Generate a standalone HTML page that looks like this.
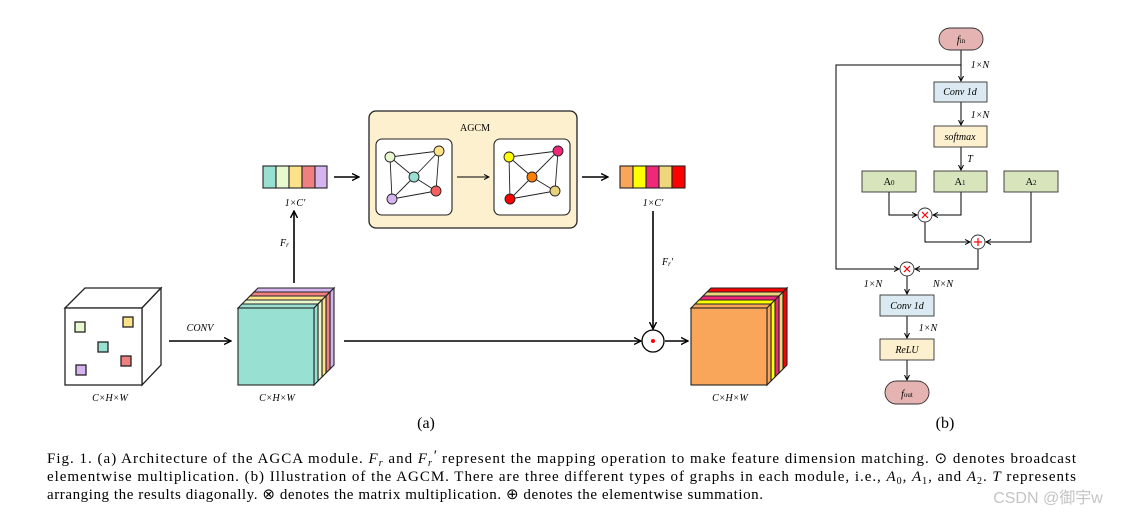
<!DOCTYPE html>
<html><head><meta charset="utf-8"><style>
html,body{margin:0;padding:0;background:#fff;}
svg{display:block;}
text{font-family:"Liberation Serif",serif;fill:#000;}
</style></head><body>
<svg width="1121" height="516" viewBox="0 0 1121 516" xmlns="http://www.w3.org/2000/svg">
<defs>
<marker id="ah" markerWidth="8" markerHeight="8" refX="7" refY="4" orient="auto" markerUnits="userSpaceOnUse">
<path d="M0,0.5 L7,4 L0,7.5" fill="none" stroke="#000" stroke-width="1.4"/>
</marker>
<marker id="as" markerWidth="6" markerHeight="6" refX="5" refY="3" orient="auto" markerUnits="userSpaceOnUse">
<path d="M0,0.5 L5,3 L0,5.5" fill="none" stroke="#000" stroke-width="1"/>
</marker>
</defs>

<g stroke="#222" stroke-width="1.3">
<polygon points="65,308 85,288 161,288 142,308" fill="#fff"/>
<polygon points="142,308 161,288 161,365 142,385" fill="#fff"/>
<rect x="65" y="308" width="77" height="77" fill="#fff"/>
<rect x="75" y="322" width="10" height="10" fill="#e8f8cf"/>
<rect x="123" y="317" width="10" height="10" fill="#fde28a"/>
<rect x="98" y="342" width="10" height="10" fill="#97e0d2"/>
<rect x="121" y="356" width="10" height="10" fill="#f08080"/>
<rect x="76" y="365" width="10" height="10" fill="#d5b4f0"/>
</g>
<text x="200" y="331" font-size="10" font-style="italic" text-anchor="middle">CONV</text>
<line x1="169" y1="341" x2="231" y2="341" stroke="#000" stroke-width="1.6" marker-end="url(#ah)"/>

<g stroke="#222" stroke-width="1.1">
<g transform="translate(16,-16)"><polygon points="238,308 242,304 318,304 314,308" fill="#d5b4f0"/><polygon points="314,308 318,304 318,381 314,385" fill="#d5b4f0"/></g>
<g transform="translate(12,-12)"><polygon points="238,308 242,304 318,304 314,308" fill="#f08080"/><polygon points="314,308 318,304 318,381 314,385" fill="#f08080"/></g>
<g transform="translate(8,-8)"><polygon points="238,308 242,304 318,304 314,308" fill="#fde28a"/><polygon points="314,308 318,304 318,381 314,385" fill="#fde28a"/></g>
<g transform="translate(4,-4)"><polygon points="238,308 242,304 318,304 314,308" fill="#e8f8cf"/><polygon points="314,308 318,304 318,381 314,385" fill="#e8f8cf"/></g>
<polygon points="238,308 242,304 318,304 314,308" fill="#97e0d2"/><polygon points="314,308 318,304 318,381 314,385" fill="#97e0d2"/>
<rect x="238" y="308" width="76" height="77" fill="#97e0d2"/>
</g>
<line x1="294" y1="283" x2="294" y2="211" stroke="#000" stroke-width="1.6" marker-end="url(#ah)"/>
<text x="280" y="246" font-size="10" font-style="italic">F<tspan font-size="7" dy="1">r</tspan></text>

<g stroke="#222" stroke-width="1.1">
<rect x="263" y="166" width="13" height="22" fill="#97e0d2"/>
<rect x="276" y="166" width="13" height="22" fill="#e8f8cf"/>
<rect x="289" y="166" width="13" height="22" fill="#fde28a"/>
<rect x="302" y="166" width="13" height="22" fill="#f08080"/>
<rect x="315" y="166" width="12" height="22" fill="#d5b4f0"/>
</g>
<text x="295" y="206" font-size="10" font-style="italic" text-anchor="middle">1×C′</text>
<line x1="334" y1="177" x2="359" y2="177" stroke="#000" stroke-width="1.6" marker-end="url(#ah)"/>

<rect x="369" y="111" width="208" height="117" rx="7" fill="#fdf0cf" stroke="#222" stroke-width="1.3"/>
<text x="475" y="131" font-size="10" text-anchor="middle">AGCM</text>
<rect x="376" y="139" width="76" height="76" rx="6" fill="#fff" stroke="#222" stroke-width="1.1"/>
<rect x="494" y="139" width="76" height="76" rx="6" fill="#fff" stroke="#222" stroke-width="1.1"/>
<line x1="457" y1="177" x2="489" y2="177" stroke="#000" stroke-width="0.9" marker-end="url(#as)"/>
<g stroke="#222" stroke-width="0.9">
<line x1="390" y1="157" x2="439" y2="151"/><line x1="390" y1="157" x2="414" y2="177"/><line x1="390" y1="157" x2="392" y2="199"/>
<line x1="439" y1="151" x2="414" y2="177"/><line x1="439" y1="151" x2="436" y2="191"/><line x1="414" y1="177" x2="436" y2="191"/>
<line x1="414" y1="177" x2="392" y2="199"/><line x1="392" y1="199" x2="436" y2="191"/>
<circle cx="390" cy="157" r="5" fill="#e8f8cf"/><circle cx="439" cy="151" r="5" fill="#fde28a"/>
<circle cx="414" cy="177" r="5" fill="#97e0d2"/><circle cx="436" cy="191" r="5" fill="#f86060"/>
<circle cx="392" cy="199" r="5" fill="#d5b4f0"/>
<line x1="509" y1="157" x2="558" y2="151"/><line x1="509" y1="157" x2="532" y2="177"/><line x1="509" y1="157" x2="510" y2="199"/>
<line x1="558" y1="151" x2="532" y2="177"/><line x1="558" y1="151" x2="555" y2="191"/><line x1="532" y1="177" x2="555" y2="191"/>
<line x1="532" y1="177" x2="510" y2="199"/><line x1="510" y1="199" x2="555" y2="191"/>
<circle cx="509" cy="157" r="5" fill="#ffff00"/><circle cx="558" cy="151" r="5" fill="#f0287a"/>
<circle cx="532" cy="177" r="5" fill="#ff7f00"/><circle cx="555" cy="191" r="5" fill="#e8d27a"/>
<circle cx="510" cy="199" r="5" fill="#ff0000"/>
</g>
<line x1="582" y1="177" x2="608" y2="177" stroke="#000" stroke-width="1.6" marker-end="url(#ah)"/>

<g stroke="#222" stroke-width="1.1">
<rect x="620" y="166" width="13" height="22" fill="#f9a55a"/>
<rect x="633" y="166" width="13" height="22" fill="#ffff00"/>
<rect x="646" y="166" width="13" height="22" fill="#f0287a"/>
<rect x="659" y="166" width="13" height="22" fill="#eed67a"/>
<rect x="672" y="166" width="13" height="22" fill="#ff0000"/>
</g>
<text x="653" y="206" font-size="10" font-style="italic" text-anchor="middle">1×C′</text>
<line x1="653" y1="211" x2="653" y2="329" stroke="#000" stroke-width="1.6" marker-end="url(#ah)"/>
<text x="662" y="265" font-size="10" font-style="italic">F<tspan font-size="7" dy="1">r</tspan><tspan dy="-1">′</tspan></text>
<line x1="344" y1="341" x2="641" y2="341" stroke="#000" stroke-width="1.6" marker-end="url(#ah)"/>
<circle cx="653" cy="341" r="11" fill="#fff" stroke="#000" stroke-width="1.3"/>
<circle cx="653" cy="341" r="2" fill="#f00"/>
<line x1="665" y1="341" x2="688" y2="341" stroke="#000" stroke-width="1.6" marker-end="url(#ah)"/>

<g stroke="#222" stroke-width="1.1">
<g transform="translate(16,-16)"><polygon points="691,308 695,304 771,304 767,308" fill="#ff0000"/><polygon points="767,308 771,304 771,381 767,385" fill="#ff0000"/></g>
<g transform="translate(12,-12)"><polygon points="691,308 695,304 771,304 767,308" fill="#eed67a"/><polygon points="767,308 771,304 771,381 767,385" fill="#eed67a"/></g>
<g transform="translate(8,-8)"><polygon points="691,308 695,304 771,304 767,308" fill="#f0287a"/><polygon points="767,308 771,304 771,381 767,385" fill="#f0287a"/></g>
<g transform="translate(4,-4)"><polygon points="691,308 695,304 771,304 767,308" fill="#ffff00"/><polygon points="767,308 771,304 771,381 767,385" fill="#ffff00"/></g>
<polygon points="691,308 695,304 771,304 767,308" fill="#f9a55a"/><polygon points="767,308 771,304 771,381 767,385" fill="#f9a55a"/>
<rect x="691" y="308" width="76" height="77" fill="#f9a55a"/>
</g>

<g font-size="10" font-style="italic" text-anchor="middle">
<text x="110" y="401">C×H×W</text><text x="277" y="401">C×H×W</text><text x="730" y="401">C×H×W</text>
</g>
<text x="426" y="428" font-size="16" text-anchor="middle">(a)</text>
<text x="945" y="428" font-size="16" text-anchor="middle">(b)</text>

<g stroke="#000" stroke-width="1" fill="none">
<line x1="961" y1="50" x2="961" y2="81" marker-end="url(#as)"/>
<polyline points="961,65 836,65 836,269 899,269" marker-end="url(#as)"/>
<line x1="961" y1="102" x2="961" y2="125" marker-end="url(#as)"/>
<line x1="961" y1="147" x2="961" y2="170" marker-end="url(#as)"/>
<polyline points="889,192 889,215 917,215" marker-end="url(#as)"/>
<polyline points="961,192 961,215 933,215" marker-end="url(#as)"/>
<polyline points="925,222 925,242 970,242" marker-end="url(#as)"/>
<polyline points="1031,192 1031,242 986,242" marker-end="url(#as)"/>
<polyline points="978,249 978,269 915,269" marker-end="url(#as)"/>
<line x1="907" y1="276" x2="907" y2="294" marker-end="url(#as)"/>
<line x1="907" y1="316" x2="907" y2="338" marker-end="url(#as)"/>
<line x1="907" y1="360" x2="907" y2="380" marker-end="url(#as)"/>
</g>
<g stroke="#333" stroke-width="0.9">
<rect x="939" y="28" width="44" height="22" rx="11" fill="#e6b3b3"/>
<rect x="934" y="82" width="53" height="20" fill="#dbeaf2"/>
<rect x="934" y="126" width="53" height="21" fill="#fdf0cf"/>
<rect x="862" y="171" width="54" height="21" fill="#d8e4bc"/>
<rect x="934" y="171" width="53" height="21" fill="#d8e4bc"/>
<rect x="1004" y="171" width="54" height="21" fill="#d8e4bc"/>
<rect x="880" y="295" width="54" height="21" fill="#dbeaf2"/>
<rect x="880" y="339" width="54" height="21" fill="#fdf0cf"/>
<rect x="885" y="381" width="44" height="23" rx="11.5" fill="#e6b3b3"/>
<circle cx="925" cy="215" r="7" fill="#fff"/>
<circle cx="978" cy="242" r="7" fill="#fff"/>
<circle cx="907" cy="269" r="7" fill="#fff"/>
</g>
<g stroke="#f00" stroke-width="1.2">
<line x1="922" y1="212" x2="928" y2="218"/><line x1="928" y1="212" x2="922" y2="218"/>
<line x1="974" y1="242" x2="982" y2="242"/><line x1="978" y1="238" x2="978" y2="246"/>
<line x1="904" y1="266" x2="910" y2="272"/><line x1="910" y1="266" x2="904" y2="272"/>
</g>
<g font-size="10" font-style="italic" text-anchor="middle">
<text x="961" y="43">f<tspan font-size="7" font-style="normal">in</tspan></text>
<text x="960" y="95">Conv 1d</text>
<text x="960" y="140">softmax</text>
<text x="907" y="309">Conv 1d</text>
<text x="907" y="353">ReLU</text>
<text x="907" y="397">f<tspan font-size="7" font-style="normal">out</tspan></text>
<text x="980" y="68">1×N</text>
<text x="980" y="118">1×N</text>
<text x="970" y="162">T</text>
<text x="873" y="287">1×N</text>
<text x="943" y="287">N×N</text>
<text x="928" y="331">1×N</text>
</g>
<g font-size="10.5" text-anchor="middle">
<text x="889" y="185">A<tspan font-size="7">0</tspan></text>
<text x="960" y="185">A<tspan font-size="7">1</tspan></text>
<text x="1031" y="185">A<tspan font-size="7">2</tspan></text>
</g>

<g font-size="15">
<text x="47" y="463" textLength="1029" lengthAdjust="spacing">Fig. 1.   (a) Architecture of the AGCA module. <tspan font-style="italic">F<tspan font-size="10" dy="3">r</tspan></tspan><tspan dy="-3"> and </tspan><tspan font-style="italic">F<tspan font-size="10" dy="3">r</tspan><tspan dy="-6">′</tspan></tspan><tspan dy="3"> represent the mapping operation to make feature dimension matching. ⊙ denotes broadcast</tspan></text>
<text x="47" y="481" textLength="1029" lengthAdjust="spacing">elementwise multiplication. (b) Illustration of the AGCM. There are three different types of graphs in each module, i.e., <tspan font-style="italic">A</tspan><tspan font-size="10" dy="3">0</tspan><tspan dy="-3">, </tspan><tspan font-style="italic">A</tspan><tspan font-size="10" dy="3">1</tspan><tspan dy="-3">, and </tspan><tspan font-style="italic">A</tspan><tspan font-size="10" dy="3">2</tspan><tspan dy="-3">. </tspan><tspan font-style="italic">T</tspan> represents</text>
<text x="47" y="499" textLength="716" lengthAdjust="spacing">arranging the results diagonally. ⊗ denotes the matrix multiplication. ⊕ denotes the elementwise summation.</text>
</g>
<text x="1048" y="503" font-size="16" text-anchor="middle" style="fill:#c4c4c4;font-family:'Liberation Sans','Noto Sans CJK SC',sans-serif">CSDN @御宇w</text>
</svg>
</body></html>
